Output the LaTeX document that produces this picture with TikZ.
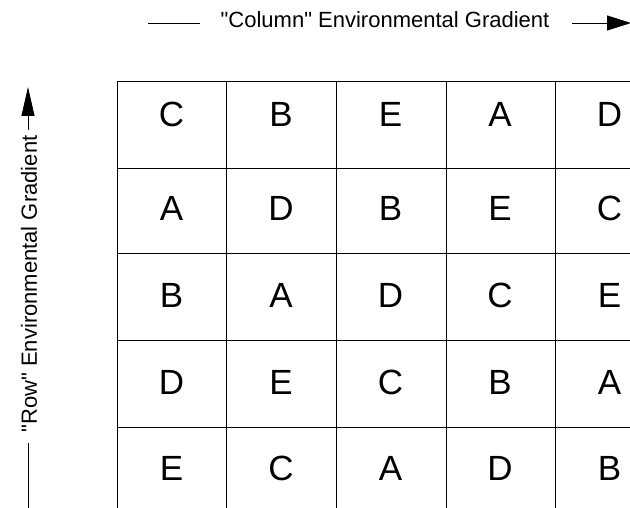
\documentclass[tikz,border=0pt]{standalone}
\usepackage{fontspec}
\setmainfont{Liberation Sans}
\newfontfamily\gradfont{Liberation Sans}
\usetikzlibrary{arrows.meta, positioning}

\begin{document}
\begin{tikzpicture}[x=1pt, y=-1pt, line width=0.8pt,
    plot/.style={font=\fontsize{35}{35}\selectfont, inner sep=0pt},
    gradlabel/.style={font=\gradfont\fontsize{22}{22}\selectfont, inner sep=0pt},
    bigtip/.style={-{Triangle[length=24pt, width=15pt]}}]
  \clip (0,0) rectangle (630,508);

  % grid of plots
  \foreach \gx in {117,226,336,446,555,665}
    \draw (\gx,81) -- (\gx,514);
  \foreach \gy in {81,168,253,340,427,514}
    \draw (117,\gy) -- (665,\gy);

  % treatments in each plot
  \foreach \r/\gy/\letters in {1/114/{C,B,E,A,D}, 2/208/{A,D,B,E,C},
      3/295/{B,A,D,C,E}, 4/382/{D,E,C,B,A}, 5/468/{E,C,A,D,B}} {
    \foreach \l [count=\c] in \letters {
      \node[plot] (p-\r-\c) at (171.5+109.5*\c-109.5, \gy) {\l};
    }
  }

  % column gradient
  \node[gradlabel] (colgrad) at (385,20) {"Column" Environmental Gradient};
  \coordinate (colA) at (148,23);
  \coordinate (colB) at (200,23);
  \coordinate (colC) at (572,23);
  \coordinate (colD) at (631,23);
  \draw (colA) -- (colB);
  \draw[bigtip] (colC) -- (colD);

  % row gradient
  \node[gradlabel, rotate=90] (rowgrad) at (29,284) {"Row" Environmental Gradient};
  \coordinate (rowA) at (28,512);
  \coordinate (rowB) at (28,443);
  \coordinate (rowC) at (28,130);
  \coordinate (rowD) at (28,87);
  \draw (rowA) -- (rowB);
  \draw[-{Triangle[length=29pt, width=13pt]}] (rowC) -- (rowD);
\end{tikzpicture}
\end{document}
